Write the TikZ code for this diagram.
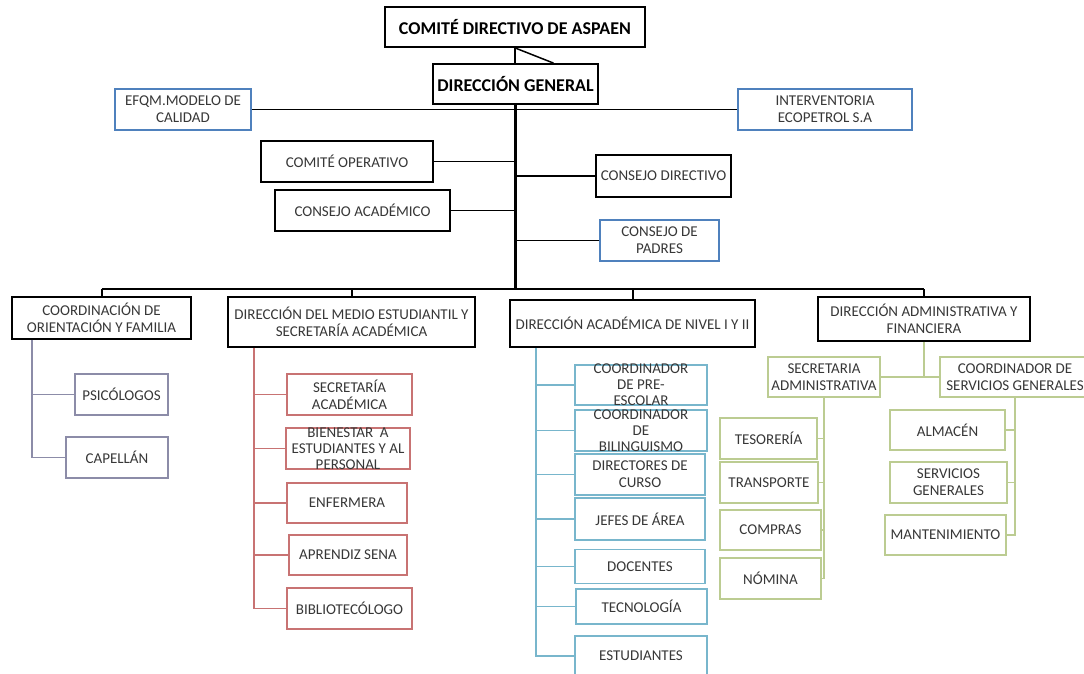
\documentclass[tikz,border=0pt]{standalone}
\usepackage{fontspec}
\setmainfont{Carlito}
\definecolor{ink}{RGB}{55,55,55}
\definecolor{qblue}{RGB}{79,129,189}
\definecolor{lila}{RGB}{140,140,168}
\definecolor{rojo}{RGB}{200,115,115}
\definecolor{agua}{RGB}{120,182,204}
\definecolor{oliva}{RGB}{188,204,146}

\begin{document}
\begin{tikzpicture}[x=1pt, y=-1pt,
  every node/.style={font=\fontsize{15}{17}\selectfont, text=ink, align=center, inner sep=0pt},
  jefe/.style={draw=black, line width=1.8pt},
  titulo/.style={jefe, font=\fontsize{18}{20}\selectfont\bfseries, text=black},
  azul/.style={draw=qblue, line width=1.8pt},
  hoja/.style={draw=#1, line width=1.2pt},
  rama/.style={draw=#1, line width=1.4pt},
  apretado/.style={font=\fontsize{15}{16}\selectfont, inner ysep=-4pt}]
  \useasboundingbox (0,0) rectangle (1084,673);

  % top of the chart
  \node[titulo, minimum width=260, minimum height=40] (top) at (515,27) {COMITÉ DIRECTIVO DE ASPAEN};
  \node[titulo, minimum width=165, minimum height=40] (dg) at (515.5,84) {DIRECCIÓN GENERAL};
  \node[azul, minimum width=136, minimum height=41] (efqm) at (183,109.5) {EFQM.MODELO DE\\CALIDAD};
  \node[azul, minimum width=174, minimum height=41] (interv) at (825,109.5) {INTERVENTORIA\\ECOPETROL S.A};
  \node[jefe, minimum width=172, minimum height=41] (comop) at (347,161.5) {COMITÉ OPERATIVO};
  \node[jefe, minimum width=175, minimum height=41] (cacad) at (362.5,210.5) {CONSEJO ACADÉMICO};
  \node[jefe, minimum width=135, minimum height=42] (cdir) at (663.5,176) {CONSEJO DIRECTIVO};
  \node[azul, minimum width=119, minimum height=41] (cpad) at (659.5,240.5) {CONSEJO DE\\PADRES};
  \coordinate (bar) at (515.5,289);

  % second level
  \node[jefe, minimum width=179, minimum height=42] (coord) at (101.5,318) {COORDINACIÓN DE\\ORIENTACIÓN Y FAMILIA};
  \node[jefe, minimum width=247, minimum height=50] (dmed) at (351.5,322) {DIRECCIÓN DEL MEDIO ESTUDIANTIL Y\\SECRETARÍA ACADÉMICA};
  \node[jefe, minimum width=245, minimum height=47] (dacad) at (632.5,323.5) {DIRECCIÓN ACADÉMICA DE NIVEL I Y II};
  \node[jefe, minimum width=212, minimum height=44] (dadm) at (924,319) {DIRECCIÓN ADMINISTRATIVA Y\\FINANCIERA};

  % orientacion
  \node[hoja=lila, minimum width=93, minimum height=41] (psico) at (121.5,394.5) {PSICÓLOGOS};
  \node[hoja=lila, minimum width=102, minimum height=41] (capel) at (117,457.5) {CAPELLÁN};

  % medio estudiantil
  \node[hoja=rojo, minimum width=125, minimum height=41] (secac) at (349.5,394.5) {SECRETARÍA\\ACADÉMICA};
  \node[hoja=rojo, apretado, minimum width=124, minimum height=41] (bien) at (348,448.5) {BIENESTAR\ \ A\\ESTUDIANTES Y AL\\PERSONAL};
  \node[hoja=rojo, minimum width=120, minimum height=40] (enf) at (347,503) {ENFERMERA};
  \node[hoja=rojo, minimum width=118, minimum height=40] (apr) at (348,555) {APRENDIZ SENA};
  \node[hoja=rojo, minimum width=125, minimum height=41] (bib) at (349.5,608.5) {BIBLIOTECÓLOGO};

  % academica
  \node[hoja=agua, apretado, minimum width=132, minimum height=40] (pre) at (641,385) {COORDINADOR\\DE PRE-\\ESCOLAR};
  \node[hoja=agua, apretado, minimum width=132, minimum height=41] (bil) at (641,430.5) {COORDINADOR\\DE\\BILINGUISMO};
  \node[hoja=agua, minimum width=130, minimum height=41] (dcur) at (640,474.5) {DIRECTORES DE\\CURSO};
  \node[hoja=agua, minimum width=130, minimum height=42] (jef) at (640,519) {JEFES DE ÁREA};
  \node[hoja=agua, minimum width=130, minimum height=34] (doc) at (640,566.5) {DOCENTES};
  \node[hoja=agua, minimum width=131, minimum height=35] (tec) at (641.5,606.5) {TECNOLOGÍA};
  \node[hoja=agua, minimum width=132, minimum height=40] (est) at (641,656) {ESTUDIANTES};

  % administrativa
  \node[hoja=oliva, minimum width=112, minimum height=40] (sadm) at (824,377) {SECRETARIA\\ADMINISTRATIVA};
  \node[hoja=oliva, minimum width=150, minimum height=40] (csg) at (1015,377) {COORDINADOR DE\\SERVICIOS GENERALES};
  \node[hoja=oliva, minimum width=97, minimum height=41] (teso) at (768.5,438.5) {TESORERÍA};
  \node[hoja=oliva, minimum width=98, minimum height=41] (trans) at (769,482.5) {TRANSPORTE};
  \node[hoja=oliva, minimum width=101, minimum height=40] (comp) at (770.5,530) {COMPRAS};
  \node[hoja=oliva, minimum width=101, minimum height=41] (nom) at (770.5,578.5) {NÓMINA};
  \node[hoja=oliva, minimum width=115, minimum height=40] (alm) at (947.5,430) {ALMACÉN};
  \node[hoja=oliva, minimum width=117, minimum height=41] (sgen) at (948.5,482.5) {SERVICIOS\\GENERALES};
  \node[hoja=oliva, minimum width=121, minimum height=40] (mant) at (945.5,535) {MANTENIMIENTO};

  % connectors
  \draw[line width=2pt] (top.south) -- (top.south |- dg.north);
  \draw[line width=1.5pt] (top.south) -- ([xshift=38]dg.north);
  \draw[line width=3pt] (dg.south) -- (dg.south |- bar);
  \draw[line width=1.8pt] (efqm) -- (interv);
  \foreach \n in {comop,cacad} \draw[line width=1.8pt] (\n.east) -- (\n.east -| dg.south);
  \foreach \n in {cdir,cpad} \draw[line width=1.8pt] (\n.west) -- (\n.west -| dg.south);
  \draw[line width=2pt] (coord.north |- bar) -- (dadm.north |- bar);
  \foreach \n in {coord,dmed,dacad,dadm} \draw[line width=2pt] (\n.north |- bar) -- (\n.north);

  \coordinate (s1) at (32,0);
  \coordinate (s2) at (254,0);
  \coordinate (s3) at (536,0);
  \draw[rama=lila] (coord.south -| s1) |- (capel.west);
  \draw[rama=lila] (psico.west) -- (psico.west -| s1);
  \draw[rama=rojo] (dmed.south -| s2) |- (bib.west);
  \foreach \n in {secac,bien,enf,apr} \draw[rama=rojo] (\n.west) -- (\n.west -| s2);
  \draw[rama=agua] (dacad.south -| s3) |- (est.west);
  \foreach \n in {pre,bil,dcur,jef,doc,tec} \draw[rama=agua] (\n.west) -- (\n.west -| s3);
  \draw[rama=oliva] (dadm.south) -- (dadm.south |- sadm.east);
  \draw[rama=oliva] (sadm) -- (csg);
  \draw[rama=oliva] (sadm.south) |- (nom.east);
  \foreach \n in {teso,trans,comp} \draw[rama=oliva] (\n.east) -- (\n.east -| sadm.south);
  \draw[rama=oliva] (csg.south) |- (mant.east);
  \foreach \n in {alm,sgen} \draw[rama=oliva] (\n.east) -- (\n.east -| csg.south);
\end{tikzpicture}
\end{document}
